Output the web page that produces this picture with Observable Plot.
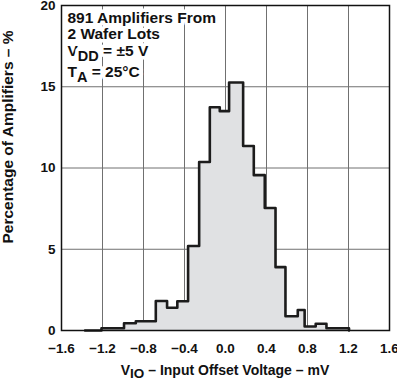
<!DOCTYPE html>
<html><head><meta charset="utf-8">
<script src="https://cdn.jsdelivr.net/npm/d3@7"></script>
<script src="https://cdn.jsdelivr.net/npm/@observablehq/plot@0.6"></script>
<style>
body{margin:0;background:#fff}
svg{font-family:"Liberation Sans",Arial,sans-serif;font-weight:bold}
</style>
</head><body><div id="chart"></div>
<script>
// Histogram bin edges (mV) and percentage of amplifiers per bin
const binEdges = [-1.37, -1.21, -0.99, -0.875, -0.68, -0.57, -0.47, -0.365, -0.257, -0.153, -0.056, 0.035, 0.172, 0.276, 0.383, 0.488, 0.585, 0.705, 0.772, 0.88, 0.985, 1.205];
const percents = [0, 0.14, 0.45, 0.57, 1.82, 1.4, 1.8, 5.2, 10.37, 13.74, 13.5, 15.26, 11.35, 9.56, 7.54, 3.9, 0.88, 1.26, 0.25, 0.42, 0.14];
const xTicks = [-1.6, -1.2, -0.8, -0.4, 0, 0.4, 0.8, 1.2, 1.6];
const yTicks = [0, 5, 10, 15, 20];
const noteLines = [["891 Amplifiers From"], ["2 Wafer Lots"], ["V", "DD", " = ±5 V"], ["T", "A", " = 25°C"]];
const xLabelParts = ["V", "IO", " – Input Offset Voltage – mV"];
const yLabel = "Percentage of Amplifiers – %";

const steps = percents.map((p, i) => ({x: binEdges[i], y: p}))
  .concat([{x: binEdges[binEdges.length - 1], y: 0}]);

const noteBaselines = [17.5, 33.5, 50, 71];

const svg = Plot.plot({
  width: 397,
  height: 380,
  marginLeft: 61,
  marginRight: 8,
  marginTop: 5,
  marginBottom: 50,
  style: {fontSize: "13.5px", fontFamily: '"Liberation Sans", Arial, sans-serif', fontWeight: "bold", color: "#111"},
  x: {domain: [-1.6, 1.6], ticks: xTicks, tickSize: 0, tickPadding: 13, label: null},
  y: {domain: [0, 20], ticks: yTicks, tickSize: 0, tickPadding: 6, label: null},
  marks: [
    Plot.ruleX(xTicks, {stroke: "#707070", strokeWidth: 1}),
    Plot.ruleY(yTicks, {stroke: "#707070", strokeWidth: 1}),
    Plot.areaY(steps, {x: "x", y: "y", curve: "step-after", fill: "#e0e1e3"}),
    Plot.line(steps, {x: "x", y: "y", curve: "step-after", stroke: "#1c1c1c", strokeWidth: 2.6}),
    ...noteLines.map((parts, i) => Plot.text([parts.join("")], {
      frameAnchor: "top-left", text: d => d, textAnchor: "start", lineAnchor: "bottom",
      dx: 6, dy: noteBaselines[i], fontSize: 15.5, fontWeight: "bold", fill: "#111",
      stroke: "white", strokeWidth: 7, paintOrder: "stroke"
    })),
    Plot.frame({stroke: "#111", strokeWidth: 1.5})
  ]
});

// Subscripts in annotation lines
d3.select(svg).selectAll("text").each(function() {
  const t = this.textContent;
  const parts = noteLines.find(p => p.length === 3 && p.join("") === t);
  if (!parts) return;
  const sel = d3.select(this);
  sel.text(null);
  sel.append("tspan").text(parts[0]);
  sel.append("tspan").attr("dy", 5).style("font-size", "14.5px").text(parts[1]);
  sel.append("tspan").attr("dy", -5).text(parts[2]);
});

const plotX = svg.scale("x");
const s = d3.select(svg);
// x axis label with subscript
const xl = s.append("text")
  .attr("x", plotX.apply(0)).attr("y", 375)
  .attr("text-anchor", "middle").attr("fill", "#111")
  .style("font-size", "14px").style("font-weight", "bold");
xl.append("tspan").text(xLabelParts[0]);
xl.append("tspan").attr("dy", 3).style("font-size", "13.5px").text(xLabelParts[1]);
xl.append("tspan").attr("dy", -3).text(xLabelParts[2]);
// y axis label
s.append("text")
  .attr("transform", "translate(12.5,137) rotate(-90)")
  .attr("text-anchor", "middle").attr("fill", "#111")
  .style("font-size", "15.5px").style("font-weight", "bold")
  .text(yLabel);

document.getElementById("chart").append(svg);
</script>
</body></html>
